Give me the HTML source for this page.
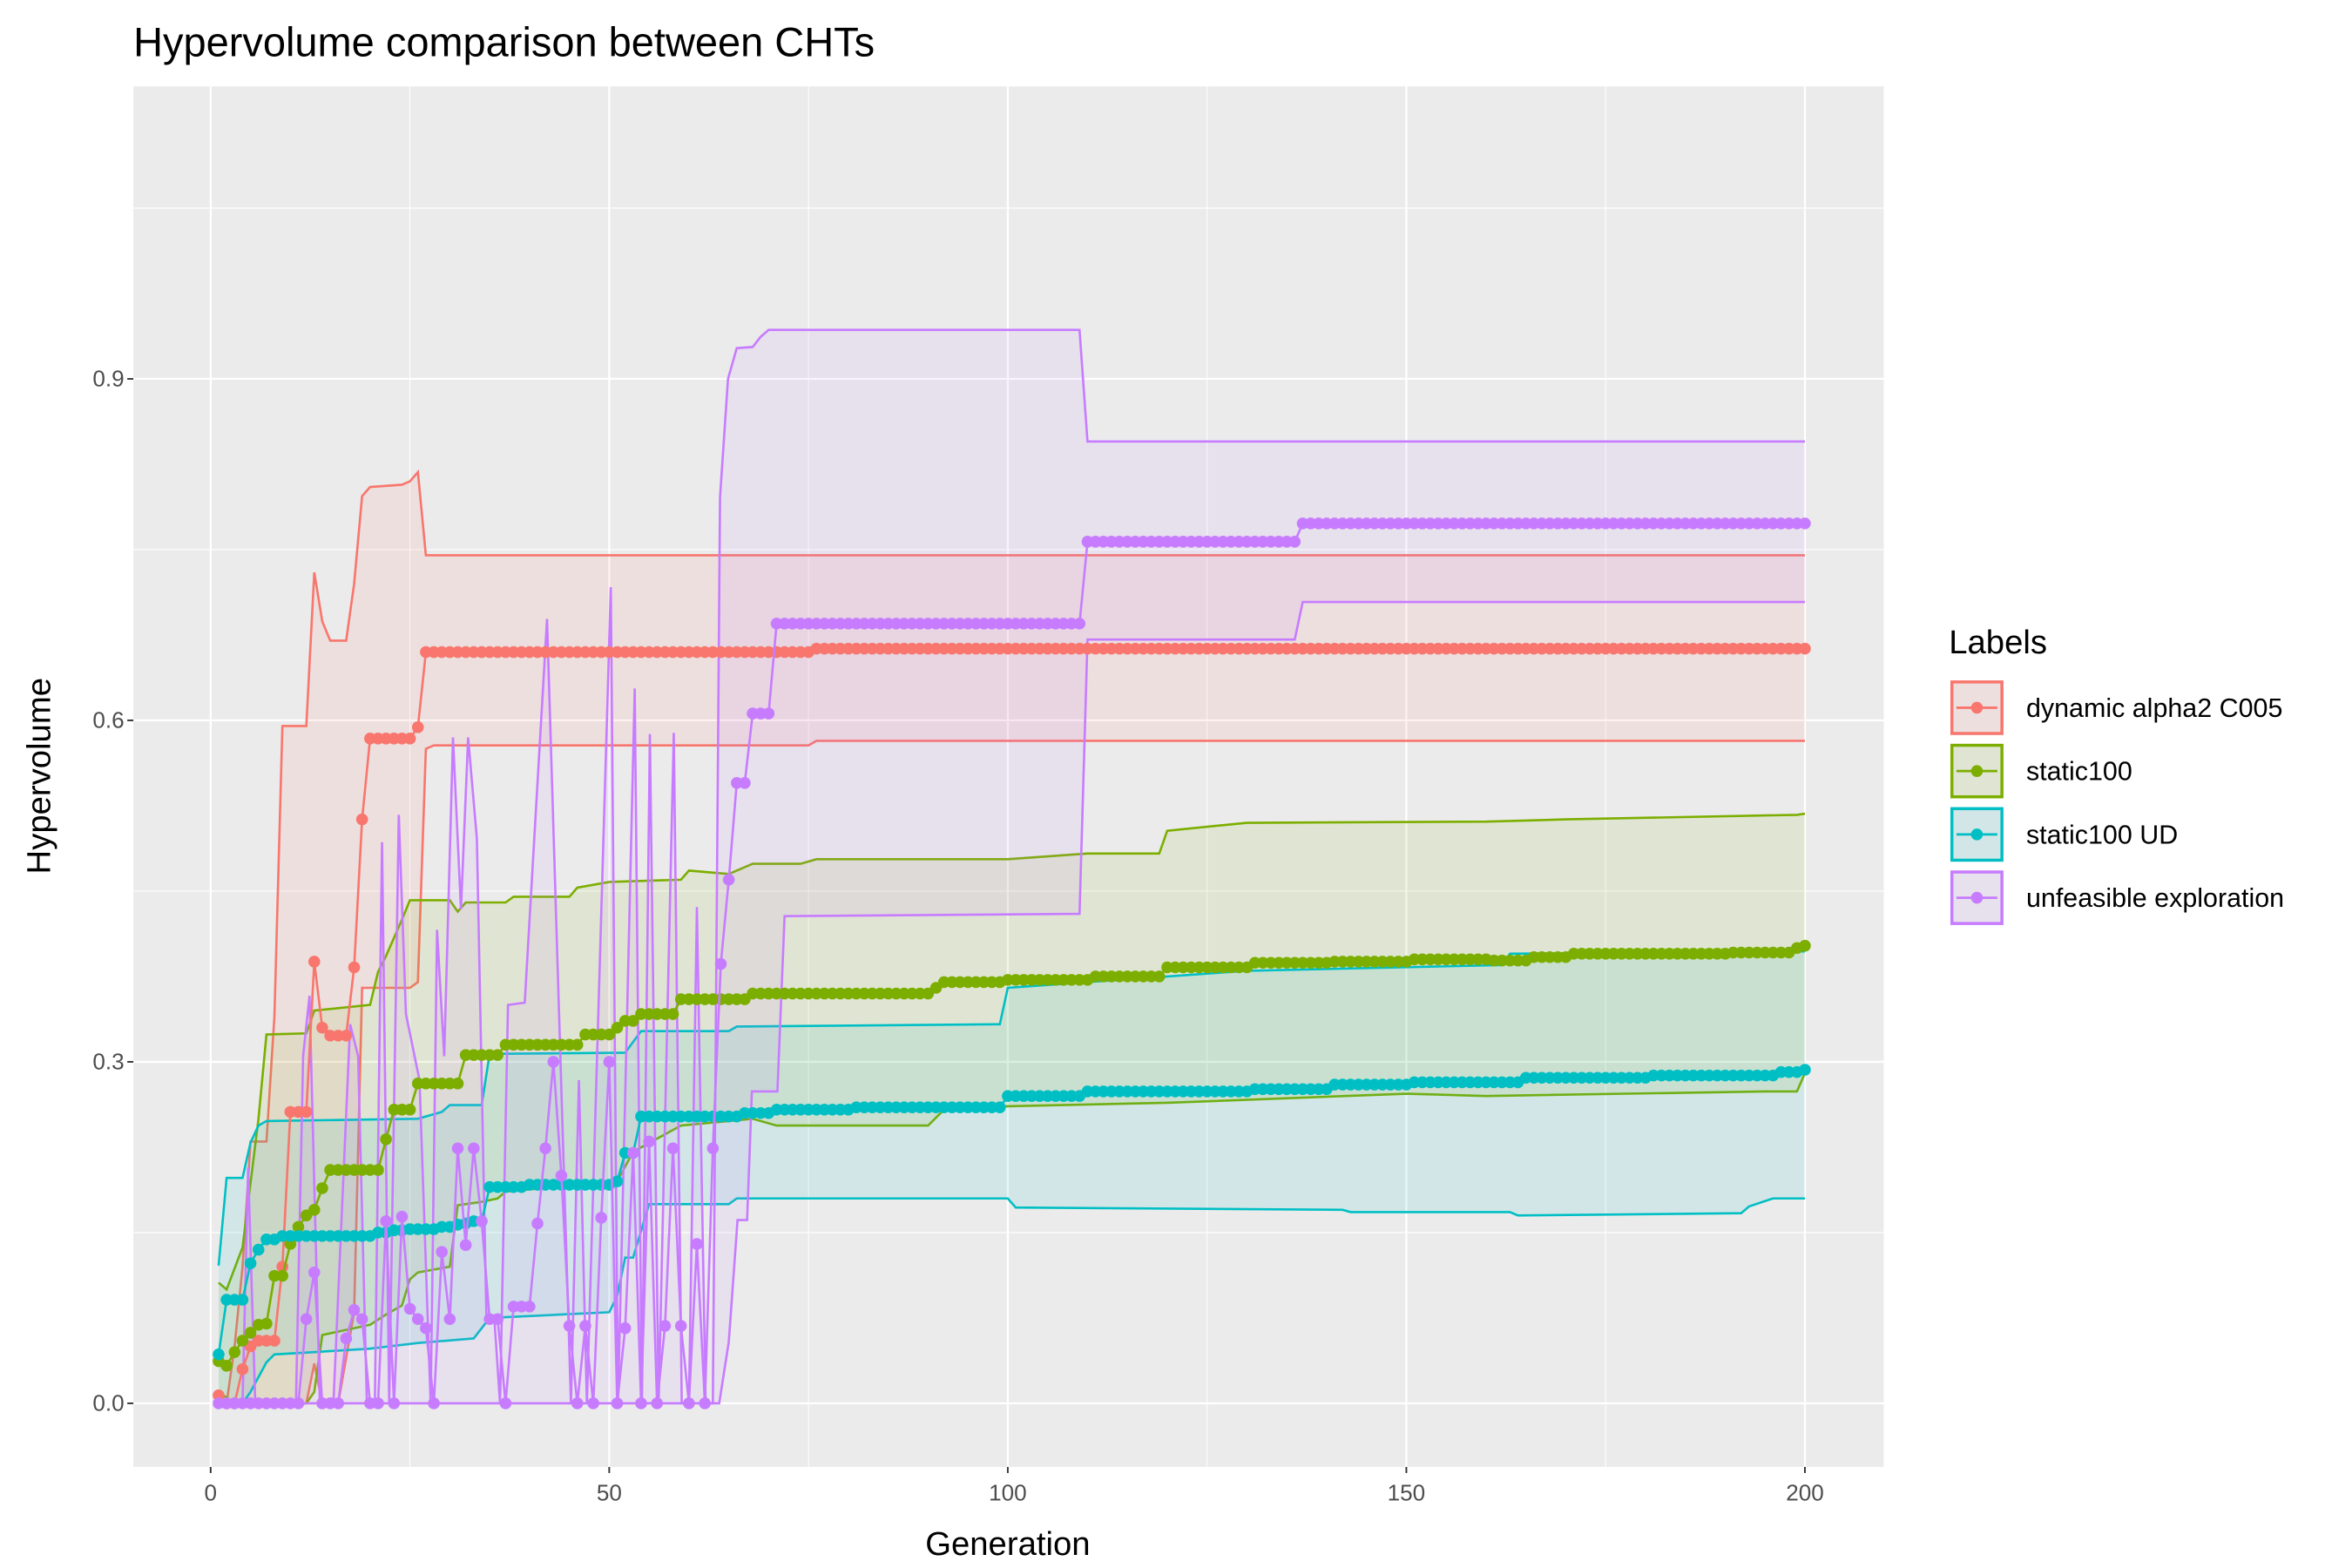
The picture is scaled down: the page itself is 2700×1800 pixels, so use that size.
<!DOCTYPE html>
<html><head><meta charset="utf-8"><title>Hypervolume comparison between CHTs</title>
<style>html,body{margin:0;padding:0;background:#fff}svg{display:block}text{font-family:"Liberation Sans",Arial,sans-serif}</style>
</head><body>
<svg id="chart" xmlns="http://www.w3.org/2000/svg" width="2700" height="1800" viewBox="0 0 1552 1034.67">
<rect x="0" y="0" width="1552" height="1034.67" fill="#fff"/>
<text x="88" y="37" font-size="27" fill="#000">Hypervolume comparison between CHTs</text>
<rect x="88" y="57" width="1155" height="911" fill="#ebebeb"/>
<g id="grid"></g>
<g id="ribbons"></g>
<g id="series"></g>
<g id="axes"></g>
<text x="665" y="1026" font-size="22" text-anchor="middle" fill="#000">Generation</text>
<text transform="translate(33,512) rotate(-90)" font-size="22" text-anchor="middle" fill="#000">Hypervolume</text>
<g id="legend">
<text x="1286" y="431" font-size="22" fill="#000">Labels</text>
</g>
</svg>
<script>
const NS="http://www.w3.org/2000/svg";
const seriesNames=["dynamic alpha2 C005","static100","static100 UD","unfeasible exploration"];
const seriesColors=["#F8766D","#7CAE00","#00BFC4","#C77CFF"];
const xTicks=[0,50,100,150,200];
const xMinor=[25,75,125,175];
const yTicks=[0,0.3,0.6,0.9];
const yTickLabels=["0.0","0.3","0.6","0.9"];
const yMinor=[0.15,0.45,0.75,1.05];

const meanRed=[0.007,0,0,0.03,0.05,0.055,0.055,0.055,0.12,0.256,
0.256,0.256,0.388,0.33,0.323,0.323,0.323,0.383,0.513,0.584,
0.584,0.584,0.584,0.584,0.584,0.594,0.66,0.66,0.66,0.66,
0.66,0.66,0.66,0.66,0.66,0.66,0.66,0.66,0.66,0.66,
0.66,0.66,0.66,0.66,0.66,0.66,0.66,0.66,0.66,0.66,
0.66,0.66,0.66,0.66,0.66,0.66,0.66,0.66,0.66,0.66,
0.66,0.66,0.66,0.66,0.66,0.66,0.66,0.66,0.66,0.66,
0.66,0.66,0.66,0.66,0.66,0.663,0.663,0.663,0.663,0.663,
0.663,0.663,0.663,0.663,0.663,0.663,0.663,0.663,0.663,0.663,
0.663,0.663,0.663,0.663,0.663,0.663,0.663,0.663,0.663,0.663,
0.663,0.663,0.663,0.663,0.663,0.663,0.663,0.663,0.663,0.663,
0.663,0.663,0.663,0.663,0.663,0.663,0.663,0.663,0.663,0.663,
0.663,0.663,0.663,0.663,0.663,0.663,0.663,0.663,0.663,0.663,
0.663,0.663,0.663,0.663,0.663,0.663,0.663,0.663,0.663,0.663,
0.663,0.663,0.663,0.663,0.663,0.663,0.663,0.663,0.663,0.663,
0.663,0.663,0.663,0.663,0.663,0.663,0.663,0.663,0.663,0.663,
0.663,0.663,0.663,0.663,0.663,0.663,0.663,0.663,0.663,0.663,
0.663,0.663,0.663,0.663,0.663,0.663,0.663,0.663,0.663,0.663,
0.663,0.663,0.663,0.663,0.663,0.663,0.663,0.663,0.663,0.663,
0.663,0.663,0.663,0.663,0.663,0.663,0.663,0.663,0.663,0.663];
const meanGreen=[0.037,0.033,0.045,0.055,0.062,0.069,0.07,0.112,0.112,0.14,
0.155,0.165,0.17,0.189,0.205,0.205,0.205,0.205,0.205,0.205,
0.205,0.232,0.258,0.258,0.258,0.281,0.281,0.281,0.281,0.281,
0.281,0.306,0.306,0.306,0.306,0.306,0.315,0.315,0.315,0.315,
0.315,0.315,0.315,0.315,0.315,0.315,0.324,0.324,0.324,0.324,
0.33,0.336,0.336,0.342,0.342,0.342,0.342,0.342,0.355,0.355,
0.355,0.355,0.355,0.355,0.355,0.355,0.355,0.36,0.36,0.36,
0.36,0.36,0.36,0.36,0.36,0.36,0.36,0.36,0.36,0.36,
0.36,0.36,0.36,0.36,0.36,0.36,0.36,0.36,0.36,0.36,
0.365,0.37,0.37,0.37,0.37,0.37,0.37,0.37,0.37,0.372,
0.372,0.372,0.372,0.372,0.372,0.372,0.372,0.372,0.372,0.372,
0.375,0.375,0.375,0.375,0.375,0.375,0.375,0.375,0.375,0.383,
0.383,0.383,0.383,0.383,0.383,0.383,0.383,0.383,0.383,0.383,
0.387,0.387,0.387,0.387,0.387,0.387,0.387,0.387,0.387,0.387,
0.388,0.388,0.388,0.388,0.388,0.388,0.388,0.388,0.388,0.388,
0.39,0.39,0.39,0.39,0.39,0.39,0.39,0.39,0.39,0.39,
0.389,0.389,0.389,0.389,0.389,0.392,0.392,0.392,0.392,0.392,
0.395,0.395,0.395,0.395,0.395,0.395,0.395,0.395,0.395,0.395,
0.395,0.395,0.395,0.395,0.395,0.395,0.395,0.395,0.395,0.395,
0.396,0.396,0.396,0.396,0.396,0.396,0.396,0.396,0.4,0.402];
const meanCyan=[0.043,0.091,0.091,0.091,0.123,0.135,0.144,0.144,0.147,0.147,
0.147,0.147,0.147,0.147,0.147,0.147,0.147,0.147,0.147,0.147,
0.15,0.15,0.152,0.152,0.153,0.153,0.153,0.153,0.155,0.155,
0.157,0.158,0.16,0.16,0.19,0.19,0.19,0.19,0.19,0.192,
0.192,0.192,0.192,0.192,0.192,0.192,0.192,0.192,0.192,0.192,
0.195,0.22,0.22,0.252,0.252,0.252,0.252,0.252,0.252,0.252,
0.252,0.252,0.252,0.252,0.252,0.252,0.255,0.255,0.255,0.255,
0.258,0.258,0.258,0.258,0.258,0.258,0.258,0.258,0.258,0.258,
0.26,0.26,0.26,0.26,0.26,0.26,0.26,0.26,0.26,0.26,
0.26,0.26,0.26,0.26,0.26,0.26,0.26,0.26,0.26,0.27,
0.27,0.27,0.27,0.27,0.27,0.27,0.27,0.27,0.27,0.274,
0.274,0.274,0.274,0.274,0.274,0.274,0.274,0.274,0.274,0.274,
0.274,0.274,0.274,0.274,0.274,0.274,0.274,0.274,0.274,0.274,
0.276,0.276,0.276,0.276,0.276,0.276,0.276,0.276,0.276,0.276,
0.28,0.28,0.28,0.28,0.28,0.28,0.28,0.28,0.28,0.28,
0.282,0.282,0.282,0.282,0.282,0.282,0.282,0.282,0.282,0.282,
0.282,0.282,0.282,0.282,0.286,0.286,0.286,0.286,0.286,0.286,
0.286,0.286,0.286,0.286,0.286,0.286,0.286,0.286,0.286,0.286,
0.288,0.288,0.288,0.288,0.288,0.288,0.288,0.288,0.288,0.288,
0.288,0.288,0.288,0.288,0.288,0.288,0.291,0.291,0.291,0.293];
const meanPurple=[0,0,0,0,0,0,0,0,0,0,
0,0.074,0.115,0,0,0,0.057,0.082,0.074,0,
0,0.16,0,0.164,0.083,0.074,0.066,0,0.133,0.074,
0.224,0.139,0.224,0.16,0.074,0.074,0,0.085,0.085,0.085,
0.158,0.224,0.3,0.2,0.068,0,0.068,0,0.163,0.3,
0,0.066,0.22,0,0.23,0,0.068,0.224,0.068,0,
0.14,0,0.224,0.386,0.46,0.545,0.545,0.606,0.606,0.606,
0.685,0.685,0.685,0.685,0.685,0.685,0.685,0.685,0.685,0.685,
0.685,0.685,0.685,0.685,0.685,0.685,0.685,0.685,0.685,0.685,
0.685,0.685,0.685,0.685,0.685,0.685,0.685,0.685,0.685,0.685,
0.685,0.685,0.685,0.685,0.685,0.685,0.685,0.685,0.685,0.757,
0.757,0.757,0.757,0.757,0.757,0.757,0.757,0.757,0.757,0.757,
0.757,0.757,0.757,0.757,0.757,0.757,0.757,0.757,0.757,0.757,
0.757,0.757,0.757,0.757,0.757,0.757,0.773,0.773,0.773,0.773,
0.773,0.773,0.773,0.773,0.773,0.773,0.773,0.773,0.773,0.773,
0.773,0.773,0.773,0.773,0.773,0.773,0.773,0.773,0.773,0.773,
0.773,0.773,0.773,0.773,0.773,0.773,0.773,0.773,0.773,0.773,
0.773,0.773,0.773,0.773,0.773,0.773,0.773,0.773,0.773,0.773,
0.773,0.773,0.773,0.773,0.773,0.773,0.773,0.773,0.773,0.773,
0.773,0.773,0.773,0.773,0.773,0.773,0.773,0.773,0.773,0.773];

// ribbon bounds as [generation, value] vertices
const upperRed=[[1,0.005],[2,0],[3,0.05],[4,0.12],[5,0.23],[7,0.23],[8,0.34],[9,0.595],[12,0.595],[13,0.73],[14,0.687],[15,0.67],[17,0.67],[18,0.72],[19,0.797],[20,0.805],[24,0.807],[25,0.81],[26,0.818],[27,0.745],[200,0.745]];
const lowerRed=[[1,0],[12,0],[13,0.035],[14,0],[16,0],[17,0.04],[18,0.08],[19,0.365],[25,0.365],[26,0.37],[27,0.575],[28,0.578],[75,0.578],[76,0.582],[200,0.582]];
const upperGreen=[[1,0.106],[2,0.1],[4,0.137],[6,0.25],[7,0.324],[12,0.325],[13,0.345],[20,0.35],[21,0.379],[22,0.393],[24,0.425],[25,0.442],[30,0.442],[31,0.432],[32,0.44],[37,0.44],[38,0.445],[45,0.445],[46,0.453],[50,0.458],[59,0.46],[60,0.468],[65,0.465],[68,0.474],[74,0.474],[76,0.478],[100,0.478],[110,0.483],[119,0.483],[120,0.503],[130,0.51],[160,0.511],[170,0.513],[199,0.517],[200,0.518]];
const lowerGreen=[[1,0.01],[3,0],[12,0],[13,0.01],[14,0.06],[20,0.069],[22,0.078],[24,0.086],[25,0.109],[26,0.115],[30,0.12],[31,0.174],[34,0.177],[36,0.18],[37,0.186],[51,0.195],[53,0.221],[59,0.244],[68,0.25],[71,0.244],[90,0.244],[92,0.258],[100,0.261],[120,0.264],[150,0.272],[160,0.27],[195,0.274],[199,0.274],[200,0.29]];
const upperCyan=[[1,0.121],[2,0.198],[4,0.198],[5,0.229],[6,0.244],[7,0.248],[26,0.25],[29,0.256],[30,0.262],[34,0.262],[35,0.307],[52,0.308],[54,0.327],[65,0.327],[66,0.331],[99,0.333],[100,0.365],[110,0.37],[130,0.38],[162,0.385],[163,0.395],[200,0.397]];
const lowerCyan=[[1,0],[4,0],[5,0.01],[7,0.036],[8,0.043],[13,0.045],[20,0.048],[26,0.053],[33,0.057],[35,0.075],[50,0.08],[51,0.094],[52,0.128],[53,0.128],[55,0.175],[65,0.175],[66,0.18],[100,0.18],[101,0.172],[142,0.17],[143,0.168],[163,0.168],[164,0.165],[192,0.167],[193,0.173],[196,0.18],[200,0.18]];
const upperPurple=[[1,0],[4,0],[4.7,0.207],[5.6,0],[10.7,0],[11.6,0.305],[12.4,0.358],[13.7,0],[15.4,0],[17.5,0.333],[18.5,0.305],[19.6,0],[20.6,0],[21.5,0.493],[22.4,0],[23.6,0.517],[24.5,0.342],[26.2,0.284],[27.6,0],[28.4,0.416],[29.3,0.305],[30.4,0.585],[31.4,0.434],[32.3,0.585],[33.4,0.496],[34.6,0.074],[35.6,0.074],[36.3,0],[37.3,0.35],[39.4,0.352],[42.2,0.689],[45.2,0],[46.2,0.284],[47.2,0],[50.2,0.717],[51.1,0],[53.2,0.628],[54.1,0],[55.1,0.588],[56.2,0],[58.1,0.589],[59.1,0],[60,0],[61,0.436],[62.1,0],[63,0],[63.9,0.796],[64.9,0.9],[66,0.927],[68,0.928],[69,0.937],[70,0.943],[109,0.943],[110,0.845],[200,0.845]];
const lowerPurple=[[1,0],[63.8,0],[65,0.054],[66.1,0.161],[67.3,0.161],[67.9,0.274],[71.1,0.274],[72,0.428],[109,0.43],[110,0.671],[136,0.671],[137,0.704],[200,0.704]];

const means=[meanRed,meanGreen,meanCyan,meanPurple];
const uppers=[upperRed,upperGreen,upperCyan,upperPurple];
const lowers=[lowerRed,lowerGreen,lowerCyan,lowerPurple];
const slugs=["dynamic-alpha2-c005","static100","static100-ud","unfeasible-exploration"];

const PX0=88,PX1=1243,PY0=57,PY1=968;
function xs(g){return 139+g*(1191-139)/200;}
function ys(v){return 926-v*(926-250)/0.9;}
function mk(tag,attrs,parent){const e=document.createElementNS(NS,tag);for(const k in attrs)e.setAttribute(k,attrs[k]);parent.appendChild(e);return e;}

const grid=document.getElementById('grid');
xMinor.forEach(g=>{const l=mk('line',{x1:xs(g),x2:xs(g),y1:PY0,y2:PY1,stroke:'#fff','stroke-width':0.6},grid);

});
yMinor.forEach(v=>{const l=mk('line',{x1:PX0,x2:PX1,y1:ys(v),y2:ys(v),stroke:'#fff','stroke-width':0.6},grid);

});
xTicks.forEach(g=>{const l=mk('line',{x1:xs(g),x2:xs(g),y1:PY0,y2:PY1,stroke:'#fff','stroke-width':1.3},grid);

});
yTicks.forEach(v=>{const l=mk('line',{x1:PX0,x2:PX1,y1:ys(v),y2:ys(v),stroke:'#fff','stroke-width':1.3},grid);

});

const rib=document.getElementById('ribbons');
const ser=document.getElementById('series');
for(let s=0;s<4;s++){
  const up=uppers[s],lo=lowers[s],c=seriesColors[s];
  const pts=up.map(p=>xs(p[0])+','+ys(p[1])).concat(lo.slice().reverse().map(p=>xs(p[0])+','+ys(p[1])));
  const poly=mk('polygon',{points:pts.join(' '),fill:c,'fill-opacity':0.1,stroke:'none'},rib);
  
  
  const ul=mk('polyline',{points:up.map(p=>xs(p[0])+','+ys(p[1])).join(' '),fill:'none',stroke:c,'stroke-width':1.5},rib);
  
  
  const ll=mk('polyline',{points:lo.map(p=>xs(p[0])+','+ys(p[1])).join(' '),fill:'none',stroke:c,'stroke-width':1.5},rib);
  
  
}
for(let s=0;s<4;s++){
  const m=means[s],c=seriesColors[s];
  const g=mk('g',{},ser);
  
  
  const ln=mk('polyline',{points:m.map((v,i)=>xs(i+1)+','+ys(v)).join(' '),fill:'none',stroke:c,'stroke-width':1.5},g);
  
  
  m.forEach((v,i)=>{const p=mk('circle',{cx:xs(i+1),cy:ys(v),r:3.9,fill:c},g);
  
  });
}

const axes=document.getElementById('axes');
xTicks.forEach(g=>{const t=mk('line',{x1:xs(g),x2:xs(g),y1:PY1,y2:PY1+4,stroke:'#333','stroke-width':1.1},axes);


const tx=mk('text',{x:xs(g),y:PY1+22,'font-size':15,'text-anchor':'middle',fill:'#4d4d4d'},axes);tx.textContent=g;

});
yTicks.forEach((v,i)=>{const t=mk('line',{x1:PX0-4,x2:PX0,y1:ys(v),y2:ys(v),stroke:'#333','stroke-width':1.1},axes);


const tx=mk('text',{x:PX0-6,y:ys(v)+5,'font-size':15,'text-anchor':'end',fill:'#4d4d4d'},axes);tx.textContent=yTickLabels[i];

});

const leg=document.getElementById('legend');
for(let s=0;s<4;s++){
  const y0=449+s*41.8,c=seriesColors[s];
  const g=mk('g',{},leg);
  
  
  mk('rect',{x:1287,y:y0,width:35,height:36,fill:'#ebebeb'},g);
  mk('rect',{x:1288,y:y0+1,width:33,height:34,fill:c,'fill-opacity':0.1,stroke:c,'stroke-width':2},g);
  mk('line',{x1:1291,x2:1318,y1:y0+18,y2:y0+18,stroke:c,'stroke-width':1.6},g);
  mk('circle',{cx:1304.5,cy:y0+18,r:3.9,fill:c},g);
  const t=mk('text',{x:1337,y:y0+24,'font-size':17.5,fill:'#000'},g);t.textContent=seriesNames[s];
}
</script>
</body></html>
